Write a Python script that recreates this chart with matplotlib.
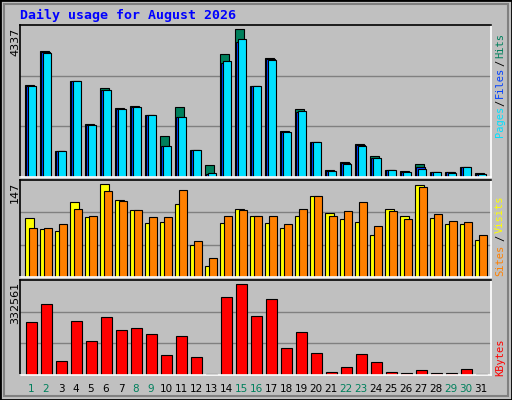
import matplotlib
matplotlib.use("Agg")
import matplotlib.pyplot as plt
import numpy as np
from matplotlib.patches import Rectangle

days = np.arange(1, 32)
hits = [2688, 3689, 775, 2816, 1540, 2600, 2011, 2070, 1805, 1187, 2041, 805, 343, 3601, 4337, 2659,
        3483, 1334, 1982, 1011, 216, 451, 981, 608, 216, 186, 392, 157, 157, 304, 128]
files = [2669, 3670, 765, 2816, 1521, 2551, 1992, 2051, 1805, 922, 1747, 805, 78, 3336, 3964, 2659,
         3454, 1305, 1913, 1011, 186, 412, 932, 569, 216, 157, 294, 157, 137, 304, 98]
pages = [2659, 3640, 765, 2816, 1511, 2551, 1982, 2041, 1805, 922, 1747, 805, 128, 3395, 4043, 2659,
         3424, 1305, 1923, 1011, 186, 392, 922, 569, 216, 157, 245, 157, 128, 304, 98]
visits = [93, 75, 73, 118, 94, 147, 121, 105, 85, 86, 115, 50, 18, 85, 107, 96, 85, 77, 97, 128,
          101, 91, 86, 67, 107, 97, 145, 93, 83, 83, 58]
sites = [77, 77, 83, 107, 97, 136, 120, 105, 94, 94, 137, 56, 30, 97, 105, 97, 97, 83, 107, 128,
         97, 104, 118, 80, 104, 91, 142, 99, 89, 86, 66]
kbytes = [193700, 259500, 51200, 197300, 124300, 212000, 164500, 171800, 149800, 73100, 142500,
          65800, 3700, 285100, 332561, 215600, 277700, 98700, 157100, 80400, 11000, 29200, 76700,
          47500, 11000, 7300, 18300, 7300, 7300, 21900, 3700]
weekend_days = [1, 2, 8, 9, 15, 16, 22, 23, 29, 30]

BG = "#C0C0C0"
W, H = 512, 400


def px_axes(fig, x0, y0, x1, y1):
    return fig.add_axes([x0 / W, 1 - y1 / H, (x1 - x0) / W, (y1 - y0) / H])


def style_panel(ax, ymax):
    ax.set_facecolor(BG)
    ax.set_xlim(0.267, 31.67)
    ax.set_ylim(0, ymax)
    ax.set_xticks([])
    ax.set_yticks([])
    for y in (ymax / 3, 2 * ymax / 3):
        ax.axhline(y, color="#808080", lw=1, zorder=0)
    ax.spines["top"].set_color("black")
    ax.spines["left"].set_color("black")
    ax.spines["bottom"].set_color("white")
    ax.spines["right"].set_color("white")
    for s in ax.spines.values():
        s.set_linewidth(1.2)


fig = plt.figure(figsize=(W / 100, H / 100), dpi=100, facecolor=BG)
fig.patches.append(Rectangle((0, 0), 1, 1, transform=fig.transFigure, fill=False,
                             edgecolor="black", lw=2))
fig.patches.append(Rectangle((4 / W, 4 / H), 1 - 8 / W, 1 - 8 / H, transform=fig.transFigure,
                             fill=False, edgecolor="#808080", lw=1.5))

mono = "DejaVu Sans Mono"
fig.text(20 / W, 1 - 15 / H, "Daily usage for August 2026", color="#0000FF", family=mono,
         weight="bold", fontsize=9.5, va="center", ha="left")

kw = dict(edgecolor="black", linewidth=0.8, align="edge")

# hits / files / pages
ax1 = px_axes(fig, 20, 25, 491, 177)
style_panel(ax1, 4454)
ax1.bar(days - 0.4, hits, width=0.58, color="#00805C", **kw)
ax1.bar(days - 0.33, files, width=0.58, color="#0040FF", **kw)
ax1.bar(days - 0.22, pages, width=0.58, color="#00E0FF", **kw)

# visits / sites
ax2 = px_axes(fig, 20, 180, 491, 277)
style_panel(ax2, 153)
ax2.bar(days - 0.4, visits, width=0.58, color="#FFFF00", **kw)
ax2.bar(days - 0.13, sites, width=0.52, color="#FF8000", **kw)

# kbytes
ax3 = px_axes(fig, 20, 280, 491, 375)
style_panel(ax3, 347180)
ax3.bar(days - 0.33, kbytes, width=0.7, color="#FF0000", **kw)

for d in days:
    c = "#00805C" if d in weekend_days else "black"
    fig.text((20 + (d - 0.267) * 15) / W, 1 - 389 / H, str(d), color=c, fontsize=7.5,
             ha="center", va="center")

left_labels = [(str(max(hits)), 28), (str(max(visits)), 182), (str(max(kbytes)), 282)]
for txt, y in left_labels:
    fig.text(15 / W, 1 - y / H, txt, rotation=90, fontsize=8, ha="center", va="top")

right_labels = [("Pages", "#00E0FF", 137), ("/", "black", 106), ("Files", "#0040FF", 98),
                ("/", "black", 66), ("Hits", "#00805C", 58),
                ("Sites", "#FF8000", 276), ("/", "black", 241), ("Visits", "#FFFF00", 233),
                ("KBytes", "#FF0000", 376)]
for txt, c, y in right_labels:
    fig.text(500 / W, 1 - y / H, txt, rotation=90, color=c, family=mono, fontsize=7.5,
             ha="center", va="bottom")

fig.savefig("out.png", dpi=100, facecolor=BG)
